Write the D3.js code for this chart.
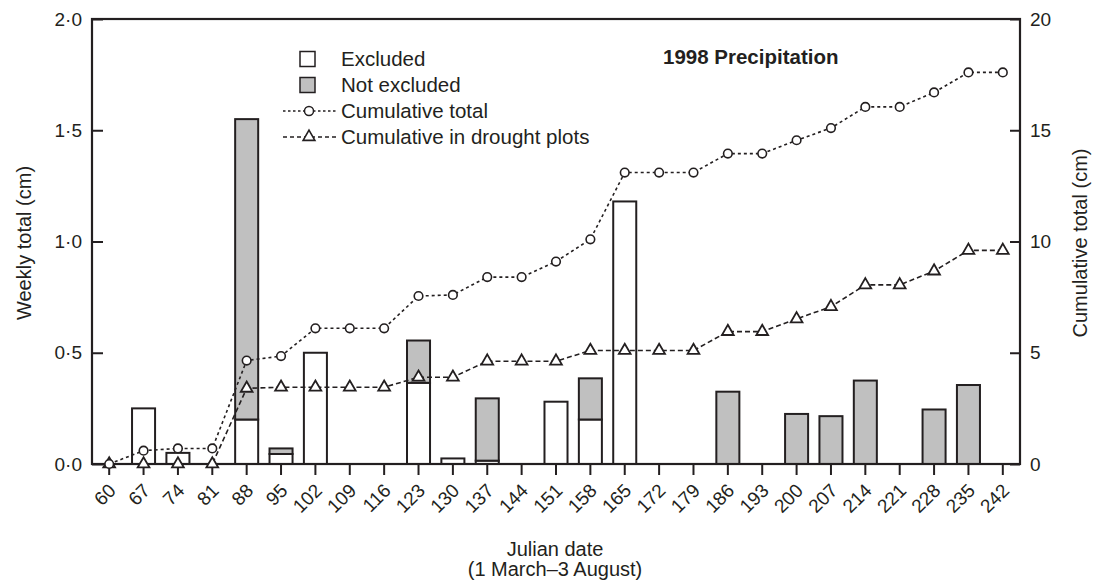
<!DOCTYPE html>
<html>
<head>
<meta charset="utf-8">
<script src="https://cdn.jsdelivr.net/npm/d3@7"></script>
<style>
  html, body { margin: 0; padding: 0; background: #fff; }
  svg { display: block; font-family: "Liberation Sans", Arial, sans-serif; }
</style>
</head>
<body>
<svg id="chart" width="1106" height="585"></svg>
<script>
// Julian dates (weekly, 1 March – 3 August 1998)
const days = [60, 67, 74, 81, 88, 95, 102, 109, 116, 123, 130, 137, 144, 151,
              158, 165, 172, 179, 186, 193, 200, 207, 214, 221, 228, 235, 242];

// Weekly precipitation (cm) falling while the shelters excluded rain
const excluded = [0, 0.25, 0.05, 0, 0.2, 0.045, 0.5, 0, 0, 0.365, 0.025, 0.015, 0, 0.28,
                  0.2, 1.18, 0, 0, 0, 0, 0, 0, 0, 0, 0, 0, 0];

// Weekly precipitation (cm) that reached the drought plots
const notExcluded = [0, 0, 0, 0, 1.35, 0.025, 0, 0, 0, 0.19, 0, 0.28, 0, 0,
                     0.185, 0, 0, 0, 0.325, 0, 0.225, 0.215, 0.375, 0, 0.245, 0.355, 0];

// Cumulative totals (cm)
const cumTotal = [0, 0.6, 0.7, 0.7, 4.65, 4.85, 6.1, 6.1, 6.1, 7.55, 7.6, 8.4, 8.4, 9.1,
                  10.1, 13.1, 13.1, 13.1, 13.95, 13.95, 14.55, 15.1, 16.05, 16.05, 16.7, 17.6, 17.6];
const cumDrought = [0, 0, 0, 0, 3.4, 3.45, 3.45, 3.45, 3.45, 3.9, 3.9, 4.62, 4.62, 4.62,
                    5.1, 5.1, 5.1, 5.1, 5.95, 5.95, 6.52, 7.07, 8.05, 8.05, 8.67, 9.6, 9.6];

const leftTicks = [0, 0.5, 1, 1.5, 2];
const leftTickLabels = ["0·0", "0·5", "1·0", "1·5", "2·0"];
const rightTicks = [0, 5, 10, 15, 20];

const ink = "#231f20";
const grey = "#c0c0c0";

const svg = d3.select("#chart");
const L = 92, R = 1020, T = 19, B = 464;

const x = d3.scaleBand().domain(days).range([L, R]).paddingInner(0.33).paddingOuter(0.165);
const yL = d3.scaleLinear().domain([0, 2]).range([B, T]);
const yR = d3.scaleLinear().domain([0, 20]).range([B, T]);

// stacked bars: excluded (white) at the bottom, not excluded (grey) above
const bars = svg.append("g");
days.forEach((d, i) => {
  const e = excluded[i], n = notExcluded[i];
  if (e > 0) {
    bars.append("rect")
      .attr("x", x(d)).attr("width", x.bandwidth())
      .attr("y", yL(e)).attr("height", yL(0) - yL(e))
      .attr("fill", "#fff").attr("stroke", ink).attr("stroke-width", 2);
  }
  if (n > 0) {
    bars.append("rect")
      .attr("x", x(d)).attr("width", x.bandwidth())
      .attr("y", yL(e + n)).attr("height", yL(e) - yL(e + n))
      .attr("fill", grey).attr("stroke", ink).attr("stroke-width", 2);
  }
});

// frame
svg.append("rect")
  .attr("x", L).attr("y", T).attr("width", R - L).attr("height", B - T)
  .attr("fill", "none").attr("stroke", ink).attr("stroke-width", 2.2);

// axes
const gL = svg.append("g").attr("transform", `translate(${L},0)`)
  .call(d3.axisLeft(yL).tickValues(leftTicks).tickSize(-11).tickPadding(10)
        .tickFormat((d, i) => leftTickLabels[i]));
const gR = svg.append("g").attr("transform", `translate(${R},0)`)
  .call(d3.axisRight(yR).tickValues(rightTicks).tickSize(-10).tickPadding(10)
        .tickFormat(d3.format("d")));
const gB = svg.append("g").attr("transform", `translate(0,${B})`)
  .call(d3.axisBottom(x).tickSize(11).tickFormat(d => d));

[gL, gR, gB].forEach(g => {
  g.select(".domain").remove();
  g.selectAll(".tick line").attr("stroke", ink).attr("stroke-width", 2);
  g.selectAll(".tick text").attr("fill", ink).style("font-size", "19px")
    .style("font-family", "'Liberation Sans', Arial, sans-serif");
});
gB.selectAll(".tick text")
  .attr("y", 0).attr("x", 0).attr("dy", "0.35em")
  .attr("text-anchor", "end")
  .attr("transform", "translate(3,23) rotate(-45)");

// cumulative lines
const xc = d => x(d) + x.bandwidth() / 2;
const lineTotal = d3.line().x((d, i) => xc(days[i])).y(d => yR(d));
svg.append("path").datum(cumTotal).attr("d", lineTotal)
  .attr("fill", "none").attr("stroke", ink).attr("stroke-width", 1.6)
  .attr("stroke-dasharray", "3,3");
svg.append("path").datum(cumDrought).attr("d", lineTotal)
  .attr("fill", "none").attr("stroke", ink).attr("stroke-width", 1.6)
  .attr("stroke-dasharray", "5,3");

const triPath = d3.symbol().type(d3.symbolTriangle).size(60);
svg.append("g").selectAll("path").data(cumDrought).join("path")
  .attr("d", triPath)
  .attr("transform", (d, i) => `translate(${xc(days[i])},${yR(d)})`)
  .attr("fill", "#fff").attr("stroke", ink).attr("stroke-width", 1.8);
svg.append("g").selectAll("circle").data(cumTotal).join("circle")
  .attr("cx", (d, i) => xc(days[i])).attr("cy", d => yR(d)).attr("r", 4.3)
  .attr("fill", "#fff").attr("stroke", ink).attr("stroke-width", 1.6);

// axis titles
const txt = (s, attrs) => {
  const t = svg.append("text").text(s).attr("fill", ink).style("font-size", "20px");
  Object.entries(attrs).forEach(([k, v]) => t.attr(k, v));
  return t;
};
txt("Weekly total (cm)", { transform: "translate(31,243) rotate(-90)", "text-anchor": "middle" });
txt("Cumulative total (cm)", { transform: "translate(1087,243) rotate(-90)", "text-anchor": "middle" });
txt("Julian date", { x: 555, y: 556, "text-anchor": "middle" });
txt("(1 March\u20133 August)", { x: 555, y: 576, "text-anchor": "middle" });

// title
svg.append("text").text("1998 Precipitation").attr("x", 663).attr("y", 64)
  .attr("fill", ink).style("font-size", "20.5px").style("font-weight", "bold");

// legend
const lg = svg.append("g");
const lx = 341, rows = [59, 85, 111, 137];
lg.append("rect").attr("x", 300).attr("y", rows[0] - 7.5).attr("width", 15).attr("height", 15)
  .attr("fill", "#fff").attr("stroke", ink).attr("stroke-width", 1.5);
lg.append("rect").attr("x", 300).attr("y", rows[1] - 7.5).attr("width", 15).attr("height", 15)
  .attr("fill", grey).attr("stroke", ink).attr("stroke-width", 1.5);
lg.append("line").attr("x1", 283).attr("x2", 337).attr("y1", rows[2]).attr("y2", rows[2])
  .attr("stroke", ink).attr("stroke-width", 1.3).attr("stroke-dasharray", "2.5,2.5");
lg.append("circle").attr("cx", 309).attr("cy", rows[2]).attr("r", 4.5)
  .attr("fill", "#fff").attr("stroke", ink).attr("stroke-width", 1.5);
lg.append("line").attr("x1", 283).attr("x2", 337).attr("y1", rows[3]).attr("y2", rows[3])
  .attr("stroke", ink).attr("stroke-width", 1.3).attr("stroke-dasharray", "4,3");
lg.append("path").attr("d", triPath).attr("transform", `translate(309,${rows[3]})`)
  .attr("fill", "#fff").attr("stroke", ink).attr("stroke-width", 1.6);
["Excluded", "Not excluded", "Cumulative total", "Cumulative in drought plots"].forEach((s, i) => {
  lg.append("text").text(s).attr("x", lx).attr("y", rows[i]).attr("dy", "0.35em")
    .attr("fill", ink).style("font-size", "20.5px");
});
</script>
</body>
</html>
